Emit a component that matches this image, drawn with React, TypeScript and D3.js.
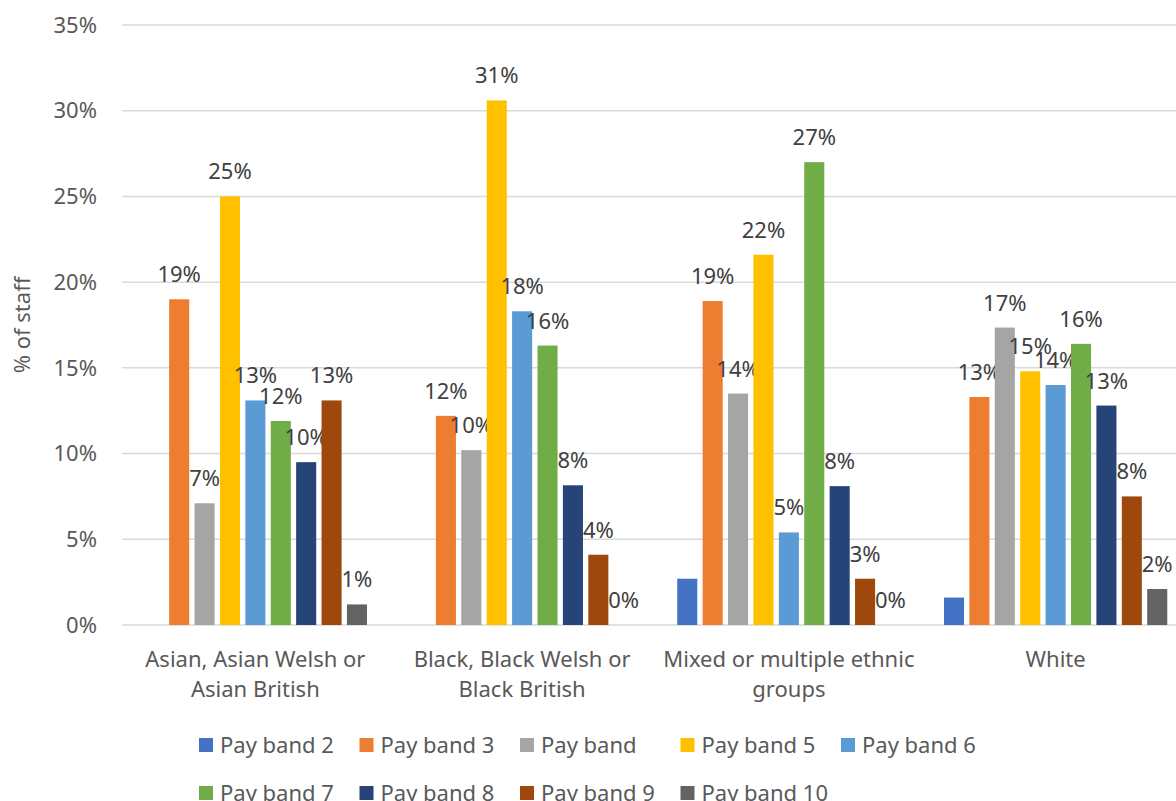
import React from "react";
import * as d3 from "d3";

const categories: string[][] = [
  ["Asian, Asian Welsh or", "Asian British"],
  ["Black, Black Welsh or", "Black British"],
  ["Mixed or multiple ethnic", "groups"],
  ["White"],
];

const seriesNames = [
  "Pay band 2",
  "Pay band 3",
  "Pay band ",
  "Pay band 5",
  "Pay band 6",
  "Pay band 7",
  "Pay band 8",
  "Pay band 9",
  "Pay band 10",
];

const seriesColors = [
  "#4472C4",
  "#ED7D31",
  "#A5A5A5",
  "#FFC000",
  "#5B9BD5",
  "#70AD47",
  "#264478",
  "#9E480E",
  "#636363",
];

// values per series, one per category (null = no bar)
const payBand2: (number | null)[] = [null, null, 2.7, 1.6];
const payBand3: (number | null)[] = [19.0, 12.2, 18.9, 13.3];
const payBand4: (number | null)[] = [7.1, 10.2, 13.5, 17.35];
const payBand5: (number | null)[] = [25.0, 30.6, 21.6, 14.8];
const payBand6: (number | null)[] = [13.1, 18.3, 5.4, 14.0];
const payBand7: (number | null)[] = [11.9, 16.3, 27.0, 16.4];
const payBand8: (number | null)[] = [9.5, 8.15, 8.1, 12.8];
const payBand9: (number | null)[] = [13.1, 4.1, 2.7, 7.5];
const payBand10: (number | null)[] = [1.2, 0, 0, 2.1];

const seriesValues = [
  payBand2,
  payBand3,
  payBand4,
  payBand5,
  payBand6,
  payBand7,
  payBand8,
  payBand9,
  payBand10,
];

// which series show data labels
const showLabels = [false, true, true, true, true, true, true, true, true];

const yTicks = [0, 5, 10, 15, 20, 25, 30, 35];

const FONT = "'Noto Sans', sans-serif";

export default function App() {
  const width = 1176;
  const height = 801;
  const plotLeft = 122;
  const plotRight = 1189;
  const plotTop = 25;
  const plotBottom = 625;
  const fs = 22;

  const y = d3.scaleLinear().domain([0, 35]).range([plotBottom, plotTop]);
  const x0 = d3
    .scaleBand<number>()
    .domain(categories.map((_, i) => i))
    .range([plotLeft, plotRight])
    .paddingInner(0)
    .paddingOuter(0);
  const innerW = 228.6;
  const x1 = d3
    .scaleBand<number>()
    .domain(seriesNames.map((_, i) => i))
    .range([0, innerW])
    .paddingInner(0.21)
    .paddingOuter(0.105);

  const fmt = (v: number) => `${Math.round(v)}%`;

  const legendColX = [199, 359.5, 520, 680.5, 841];
  const legendRowY = [745, 793];

  return (
    <svg
      width={width}
      height={height}
      style={{ position: "fixed", left: 0, top: 0, background: "#fff" }}
      fontFamily={FONT}
    >
      <rect x={0} y={0} width={width} height={height} fill="#fff" />
      {/* gridlines */}
      {yTicks.map((t) => (
        <line
          key={"g" + t}
          x1={plotLeft}
          x2={plotRight}
          y1={y(t)}
          y2={y(t)}
          stroke="#d9d9d9"
          strokeWidth={1.5}
        />
      ))}
      {/* y tick labels */}
      {yTicks.map((t) => (
        <text
          key={"t" + t}
          x={97}
          y={y(t)}
          dy="0.35em"
          textAnchor="end"
          fontSize={fs}
          fill="#595959"
        >
          {t}%
        </text>
      ))}
      {/* y axis title */}
      <text
        transform={`translate(30, ${(plotTop + plotBottom) / 2}) rotate(-90)`}
        textAnchor="middle"
        fontSize={fs}
        fill="#595959"
      >
        % of staff
      </text>
      {/* bars */}
      {categories.map((_, ci) => {
        const gx = (x0(ci) as number) + (x0.bandwidth() - innerW) / 2;
        return (
          <g key={"c" + ci} transform={`translate(${gx},0)`}>
            {seriesValues.map((vals, si) => {
              const v = vals[ci];
              if (v === null) return null;
              const bx = x1(si) as number;
              return (
                <g key={"b" + si}>
                  <rect
                    x={bx}
                    y={y(v)}
                    width={x1.bandwidth()}
                    height={plotBottom - y(v)}
                    fill={seriesColors[si]}
                  />
                  {showLabels[si] && (
                    <text
                      x={bx + x1.bandwidth() / 2}
                      y={y(v) - 17}
                      textAnchor="middle"
                      fontSize={fs}
                      fill="#404040"
                    >
                      {fmt(v)}
                    </text>
                  )}
                </g>
              );
            })}
          </g>
        );
      })}
      {/* category labels */}
      {categories.map((lines, ci) => {
        const cx = (x0(ci) as number) + x0.bandwidth() / 2;
        return (
          <text
            key={"cat" + ci}
            x={cx}
            textAnchor="middle"
            fontSize={fs}
            fill="#595959"
          >
            {lines.map((ln, li) => (
              <tspan key={li} x={cx} y={667 + li * 30}>
                {ln}
              </tspan>
            ))}
          </text>
        );
      })}
      {/* legend */}
      {seriesNames.map((name, si) => {
        const row = si < 5 ? 0 : 1;
        const col = si < 5 ? si : si - 5;
        const lx = legendColX[col];
        const ly = legendRowY[row];
        return (
          <g key={"l" + si}>
            <rect x={lx} y={ly - 7} width={14} height={14} fill={seriesColors[si]} />
            <text x={lx + 21} y={ly} dy="0.35em" fontSize={fs} fill="#595959">
              {name}
            </text>
          </g>
        );
      })}
    </svg>
  );
}
